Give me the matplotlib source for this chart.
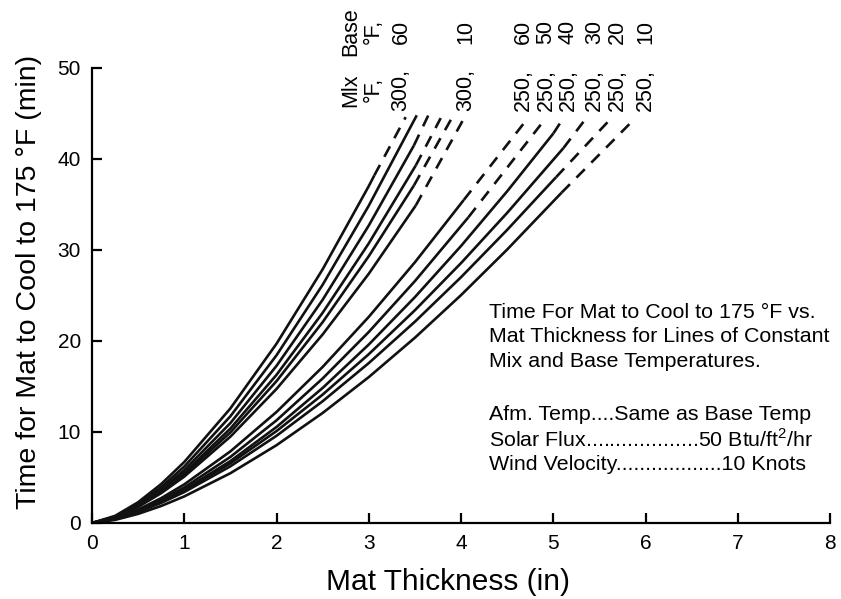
import matplotlib
matplotlib.use("Agg")
import matplotlib.pyplot as plt

plt.rcParams['font.family'] = ['Liberation Sans', 'DejaVu Sans']
plt.rcParams['mathtext.fontset'] = 'custom'
plt.rcParams['mathtext.rm'] = 'Liberation Sans'

# --- data ---
base_temps = [60, 50, 40, 30, 20, 10]

# 300 F mix: thickness grid and time (min) for each base temp
thick_300 = [0, 0.25, 0.5, 0.75, 1.0, 1.5, 2.0, 2.5, 3.0]
time_300 = [
    [0, 0.78, 2.28, 4.28, 6.70, 12.59, 19.70, 27.88, 37.02],
    [0, 0.70, 2.09, 3.94, 6.20, 11.73, 18.43, 26.18, 34.87],
    [0, 0.65, 1.95, 3.69, 5.80, 10.98, 17.27, 24.53, 32.69],
    [0, 0.63, 1.86, 3.51, 5.50, 10.38, 16.28, 23.10, 30.73],
    [0, 0.61, 1.80, 3.39, 5.30, 9.96, 15.59, 22.07, 29.32],
    [0, 0.61, 1.77, 3.28, 5.10, 9.49, 14.73, 20.72, 27.39],
]
end_300_x = [3.06, 3.52, 3.49, 3.51, 3.49, 3.51]
end_300_y = [38.2, 44.8, 41.5, 39.3, 37.1, 34.9]
tip_300_x = [3.40, 3.52, 3.65, 3.78, 3.90, 4.05]
tip_300_y = [44.6, 44.8, 44.9, 44.5, 44.5, 44.8]

# 250 F mix
thick_250 = [0, 0.25, 0.5, 0.75, 1.0, 1.5, 2.0, 2.5, 3.0, 3.5, 4.0, 4.5]
time_250 = [
    [0, 0.51, 1.47, 2.73, 4.24, 7.87, 12.20, 17.15, 22.65, 28.65],
    [0, 0.47, 1.35, 2.51, 3.90, 7.26, 11.28, 15.88, 20.99, 26.58],
    [0, 0.44, 1.27, 2.36, 3.66, 6.80, 10.55, 14.84, 19.61, 24.82, 30.44, 36.45],
    [0, 0.45, 1.26, 2.32, 3.57, 6.56, 10.10, 14.11, 18.55, 23.38, 28.56, 34.08],
    [0, 0.43, 1.21, 2.21, 3.40, 6.23, 9.58, 13.38, 17.57, 22.12, 27.01, 32.21],
    [0, 0.34, 1.00, 1.87, 2.92, 5.47, 8.55, 12.09, 16.03, 20.36, 25.04, 30.05],
]
end_250_x = [4.03, 4.08, 5.00, 5.11, 5.03, 5.09]
end_250_y = [35.5, 33.6, 42.8, 41.2, 38.0, 36.3]
tip_250_x = [4.71, 4.92, 5.11, 5.38, 5.63, 5.89]
tip_250_y = [44.3, 44.5, 44.5, 44.8, 44.5, 44.5]

# label columns along the top (x in data units)
label_300_x = [3.35, 4.05]
label_300_base = ["60", "10"]
label_250_x = [4.68, 4.92, 5.16, 5.45, 5.70, 6.00]

note_lines = [
    "Time For Mat to Cool to 175 \u00b0F vs.",
    "Mat Thickness for Lines of Constant",
    "Mix and Base Temperatures.",
]
cond_lines = [
    "Afm. Temp....Same as Base Temp",
    "Solar Flux...................50 Btu/ft$^2$/hr",
    "Wind Velocity..................10 Knots",
]

fig = plt.figure(figsize=(8.41, 5.99), dpi=100)
ax = fig.add_axes([0.1094, 0.1269, 0.8776, 0.7596])

lw = 1.9


def draw_group(grid, times, ex, ey, tx, ty):
    for ys, x1, y1, x2, y2 in zip(times, ex, ey, tx, ty):
        xs = grid[:len(ys)] + [x1]
        ax.plot(xs, ys + [y1], color="#111111", lw=lw, solid_capstyle="butt")
        if x2 != x1:
            ax.plot([x1, x2], [y1, y2], color="#111111", lw=lw,
                    dashes=(4.5, 3.5), dash_capstyle="butt")


draw_group(thick_300, time_300, end_300_x, end_300_y, tip_300_x, tip_300_y)
draw_group(thick_250, time_250, end_250_x, end_250_y, tip_250_x, tip_250_y)

ax.set_xlim(0, 8)
ax.set_ylim(0, 50)
ax.set_xticks(range(0, 9))
ax.set_yticks(range(0, 51, 10))
ax.spines['top'].set_visible(False)
ax.spines['right'].set_visible(False)
for s in ('left', 'bottom'):
    ax.spines[s].set_linewidth(1.6)
ax.tick_params(direction='in', length=7, width=1.6, labelsize=15, pad=8)

ax.set_xlabel("Mat Thickness (in)", fontsize=21.5)
ax.set_ylabel("Time for Mat to Cool to 175 \u00b0F (min)", fontsize=20.5)
ax.xaxis.set_label_coords(0.482, -0.098)
ax.yaxis.set_label_coords(-0.068, 0.53)

# rotated labels above the curves
row_lo, row_hi = 47.6, 54.0
lab = dict(rotation=90, ha='center', va='center', fontsize=15.5, clip_on=False)
ax.text(2.80, row_lo, "Mlx", **lab)
ax.text(2.80, row_hi, "Base", **lab)
ax.text(3.05, row_lo, "\u00b0F,", **lab)
ax.text(3.05, row_hi, "\u00b0F,", **lab)
for x, b in zip(label_300_x, label_300_base):
    ax.text(x, row_lo, "300,", **lab)
    ax.text(x, row_hi, b, **lab)
for x, b in zip(label_250_x, base_temps):
    ax.text(x, row_lo, "250,", **lab)
    ax.text(x, row_hi, str(b), **lab)

# notes
for i, line in enumerate(note_lines):
    ax.text(4.30, 23.1 - i * 2.65, line, fontsize=15.4, va='center')
for i, line in enumerate(cond_lines):
    ax.text(4.30, 11.9 - i * 2.75, line, fontsize=15.4, va='center')

fig.savefig("out.png", dpi=100)
